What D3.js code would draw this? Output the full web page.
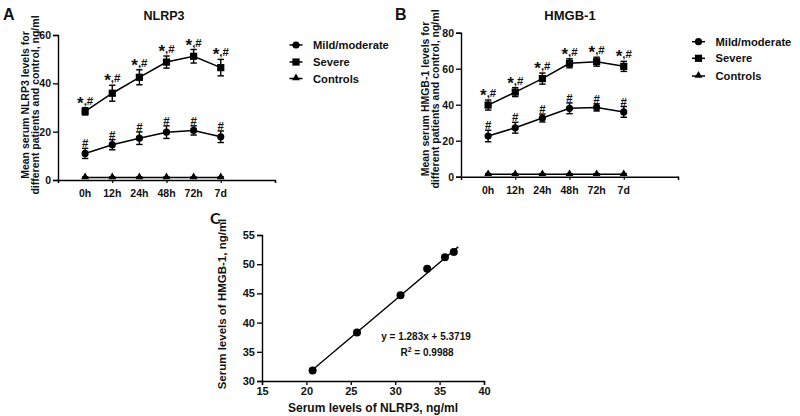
<!DOCTYPE html>
<html>
<head>
<meta charset="utf-8">
<script src="https://cdn.jsdelivr.net/npm/d3@7"></script>
<style>
  html, body { margin: 0; padding: 0; background: #fff; }
  svg { display: block; }
  text { font-family: "Liberation Sans", Arial, sans-serif; font-weight: bold; fill: #111; }
</style>
</head>
<body>
<svg id="chart" width="800" height="416"></svg>
<script>
// ---------- data ----------
const timepoints = ["0h", "12h", "24h", "48h", "72h", "7d"];
const seriesNames = ["Mild/moderate", "Severe", "Controls"];

const nlrp3Mild = [11.0, 14.6, 17.3, 19.8, 20.5, 17.9];
const nlrp3MildErr = [2.1, 2.1, 2.6, 2.6, 1.9, 2.4];
const nlrp3Severe = [28.4, 35.9, 42.5, 48.8, 51.2, 46.5];
const nlrp3SevereErr = [1.5, 3.3, 3.1, 2.5, 2.8, 3.4];
const nlrp3Controls = [1.0, 1.0, 1.0, 1.0, 1.0, 1.0];
const nlrp3ControlsErr = [0.3, 0.3, 0.3, 0.3, 0.3, 0.3];
const nlrp3SevereMarks = ["*,#", "*,#", "*,#", "*,#", "*,#", "*,#"];
const nlrp3MildMarks = ["#", "#", "#", "#", "#", "#"];
const nlrp3Ticks = [0, 20, 40, 60];

const hmgbMild = [22.6, 27.2, 32.6, 38.0, 38.5, 36.0];
const hmgbMildErr = [3.2, 3.0, 2.2, 3.0, 2.0, 3.0];
const hmgbSevere = [39.8, 47.0, 54.5, 63.0, 63.9, 61.3];
const hmgbSevereErr = [2.8, 2.5, 3.1, 2.5, 2.5, 2.8];
const hmgbControls = [1.3, 1.3, 1.3, 1.3, 1.3, 1.3];
const hmgbControlsErr = [0.4, 0.4, 0.4, 0.4, 0.4, 0.4];
const hmgbSevereMarks = ["*,#", "*,#", "*,#", "*,#", "*,#", "*,#"];
const hmgbMildMarks = ["#", "#", "#", "#", "#", "#"];
const hmgbTicks = [0, 20, 40, 60, 80];

const corrNlrp3 = [20.7, 25.7, 30.6, 33.6, 35.6, 36.6];
const corrHmgb = [31.8, 38.3, 44.7, 49.2, 51.2, 52.1];
const corrXTicks = [15, 20, 25, 30, 35, 40];
const corrYTicks = [30, 35, 40, 45, 50, 55];
const fitSlope = 1.283, fitIntercept = 5.3719;
const fitRange = [20.5, 37.1];

const svg = d3.select("#chart");

// ---------- markers ----------
function marker(g, type, cx, cy) {
  if (type === "circle") {
    g.append("circle").attr("cx", cx).attr("cy", cy).attr("r", 3.6).attr("fill", "#000");
  } else if (type === "square") {
    g.append("rect").attr("x", cx - 3.6).attr("y", cy - 3.6).attr("width", 7.2).attr("height", 7.2).attr("fill", "#000");
  } else {
    g.append("path").attr("d", d3.symbol().type(d3.symbolTriangle).size(26)()).attr("transform", `translate(${cx},${cy - 0.5})`).attr("fill", "#000");
  }
}

// ---------- line panels ----------
function linePanel(o) {
  const g = svg.append("g");
  const x = d3.scaleLinear().domain([-1, 7]).range(o.xRange);
  const y = d3.scaleLinear().domain([0, o.yMax]).range(o.yRange);

  // y axis
  const ya = g.append("g").attr("transform", `translate(${o.xRange[0]},0)`)
    .call(d3.axisLeft(y).tickValues(o.yTicks).tickSize(5).tickPadding(2));
  ya.select(".domain").attr("stroke", "#000").attr("stroke-width", 1.4);
  ya.selectAll(".tick line").attr("stroke", "#000").attr("stroke-width", 1.3);
  ya.selectAll(".tick text").style("font-size", "10.5px").style("font-family", "Liberation Sans, Arial").style("font-weight", "bold").attr("fill", "#111");

  // x axis (linear -1..7, major ticks every 2, labels at categories)
  const xa = g.append("g").attr("transform", `translate(0,${o.yRange[0]})`)
    .call(d3.axisBottom(x).tickValues([-1, 1, 3, 5, 7]).tickSize(3).tickFormat(""));
  xa.select(".domain").attr("stroke", "#000").attr("stroke-width", 1.4);
  xa.selectAll(".tick line").attr("stroke", "#000").attr("stroke-width", 1.2);
  g.append("g").selectAll("text").data(timepoints).join("text")
    .attr("x", (d, i) => x(i)).attr("y", o.yRange[0] + 17)
    .attr("text-anchor", "middle").style("font-size", "10.5px").text(d => d);

  // series
  const series = [
    { v: o.controls, e: o.controlsErr, m: "triangle" },
    { v: o.mild, e: o.mildErr, m: "circle" },
    { v: o.severe, e: o.severeErr, m: "square" }
  ];
  const line = d3.line().x((d, i) => x(i)).y(d => y(d));
  series.forEach(s => {
    g.append("path").attr("d", line(s.v)).attr("fill", "none").attr("stroke", "#000").attr("stroke-width", 1.5);
    s.v.forEach((v, i) => {
      const cx = x(i);
      g.append("line").attr("x1", cx).attr("x2", cx).attr("y1", y(v - s.e[i])).attr("y2", y(v + s.e[i])).attr("stroke", "#000").attr("stroke-width", 1.4);
      [v - s.e[i], v + s.e[i]].forEach(b => g.append("line").attr("x1", cx - 3.2).attr("x2", cx + 3.2).attr("y1", y(b)).attr("y2", y(b)).attr("stroke", "#000").attr("stroke-width", 1.4));
      marker(g, s.m, cx, y(v));
    });
  });

  // significance marks
  o.severe.forEach((v, i) => {
    const t = g.append("text").attr("x", x(i)).attr("y", y(v + o.severeErr[i]) - 3).attr("text-anchor", "middle");
    const parts = o.severeMarks[i].split(",");
    t.append("tspan").style("font-size", "17px").attr("dy", "4").text(parts[0]);
    t.append("tspan").style("font-size", "11.5px").attr("dy", "-4").text("," + parts[1]);
  });
  o.mild.forEach((v, i) => {
    g.append("text").attr("x", x(i)).attr("y", y(v + o.mildErr[i]) - 1).attr("text-anchor", "middle")
      .style("font-size", "11.5px").text(o.mildMarks[i]);
  });

  // titles
  g.append("text").attr("x", o.titleX).attr("y", 20).attr("text-anchor", "middle").style("font-size", o.titleSize + "px").text(o.title);
  g.append("text").attr("x", o.letterX).attr("y", 20).style("font-size", "16px").text(o.letter);

  // y label
  const yl = g.append("text").attr("transform", `translate(${o.ylabX},${o.ylabY}) rotate(-90)`).attr("text-anchor", "middle").style("font-size", "10.5px");
  yl.append("tspan").attr("x", 0).attr("y", 0).text(o.ylab1);
  yl.append("tspan").attr("x", 0).attr("y", 10.5).text(o.ylab2);

  // legend
  const types = ["circle", "square", "triangle"];
  seriesNames.forEach((n, i) => {
    const ly = o.legY[i];
    g.append("line").attr("x1", o.legX - 6.5).attr("x2", o.legX + 6.5).attr("y1", ly).attr("y2", ly).attr("stroke", "#000").attr("stroke-width", 1.5);
    marker(g, types[i], o.legX, ly);
    g.append("text").attr("x", o.legX + 17).attr("y", ly + 4).style("font-size", "11.2px").text(n);
  });
}

linePanel({
  xRange: [58, 275], yRange: [180, 35], yMax: 60, yTicks: nlrp3Ticks,
  mild: nlrp3Mild, mildErr: nlrp3MildErr, severe: nlrp3Severe, severeErr: nlrp3SevereErr,
  controls: nlrp3Controls, controlsErr: nlrp3ControlsErr,
  severeMarks: nlrp3SevereMarks, mildMarks: nlrp3MildMarks,
  title: "NLRP3", titleX: 164, titleSize: 12.5, letter: "A", letterX: 3,
  ylab1: "Mean serum NLRP3 levels for", ylab2: "different patients and control, ng/ml",
  ylabX: 28.5, ylabY: 105,
  legX: 296, legY: [45, 62, 78.5]
});

linePanel({
  xRange: [461, 678], yRange: [176.7, 32.7], yMax: 80, yTicks: hmgbTicks,
  mild: hmgbMild, mildErr: hmgbMildErr, severe: hmgbSevere, severeErr: hmgbSevereErr,
  controls: hmgbControls, controlsErr: hmgbControlsErr,
  severeMarks: hmgbSevereMarks, mildMarks: hmgbMildMarks,
  title: "HMGB-1", titleX: 570, titleSize: 13, letter: "B", letterX: 395,
  ylab1: "Mean serum HMGB-1 levels for", ylab2: "different patients and control, ng/ml",
  ylabX: 428.5, ylabY: 99,
  legX: 698.5, legY: [41.7, 58.3, 76]
});

// ---------- correlation panel ----------
(function () {
  const g = svg.append("g");
  const x = d3.scaleLinear().domain([15, 40]).range([262, 484]);
  const y = d3.scaleLinear().domain([30, 55]).range([381, 235]);

  const ya = g.append("g").attr("transform", "translate(262,0)")
    .call(d3.axisLeft(y).tickValues(corrYTicks).tickSize(5).tickPadding(2));
  const xa = g.append("g").attr("transform", "translate(0,381)")
    .call(d3.axisBottom(x).tickValues(corrXTicks).tickSize(4).tickPadding(2));
  [ya, xa].forEach(a => {
    a.select(".domain").attr("stroke", "#000").attr("stroke-width", 1.4);
    a.selectAll(".tick line").attr("stroke", "#000").attr("stroke-width", 1.3);
    a.selectAll(".tick text").style("font-size", "11px").style("font-family", "Liberation Sans, Arial").style("font-weight", "bold").attr("fill", "#111");
  });

  g.append("line")
    .attr("x1", x(fitRange[0])).attr("y1", y(fitSlope * fitRange[0] + fitIntercept))
    .attr("x2", x(fitRange[1])).attr("y2", y(fitSlope * fitRange[1] + fitIntercept))
    .attr("stroke", "#000").attr("stroke-width", 1.4);

  g.selectAll("circle.pt").data(corrNlrp3).join("circle").attr("class", "pt")
    .attr("cx", d => x(d)).attr("cy", (d, i) => y(corrHmgb[i])).attr("r", 4).attr("fill", "#000");

  g.append("text").attr("x", 426).attr("y", 340).attr("text-anchor", "middle").style("font-size", "10px")
    .text(`y = ${fitSlope}x + ${fitIntercept}`);
  const r = g.append("text").attr("x", 427).attr("y", 355.5).attr("text-anchor", "middle").style("font-size", "10px");
  r.append("tspan").text("R");
  r.append("tspan").attr("dy", -4).style("font-size", "7px").text("2");
  r.append("tspan").attr("dy", 4).text(" = 0.9988");

  g.append("text").attr("x", 373).attr("y", 412).attr("text-anchor", "middle").style("font-size", "12px")
    .text("Serum levels of NLRP3, ng/ml");
  g.append("text").attr("transform", "translate(226,304) rotate(-90)").attr("text-anchor", "middle").style("font-size", "11.5px")
    .text("Serum levels of HMGB-1, ng/ml");
  g.append("text").attr("x", 210).attr("y", 224).style("font-size", "16px").style("font-family", "Lato, 'Open Sans', sans-serif").text("C");
})();
</script>
</body>
</html>
